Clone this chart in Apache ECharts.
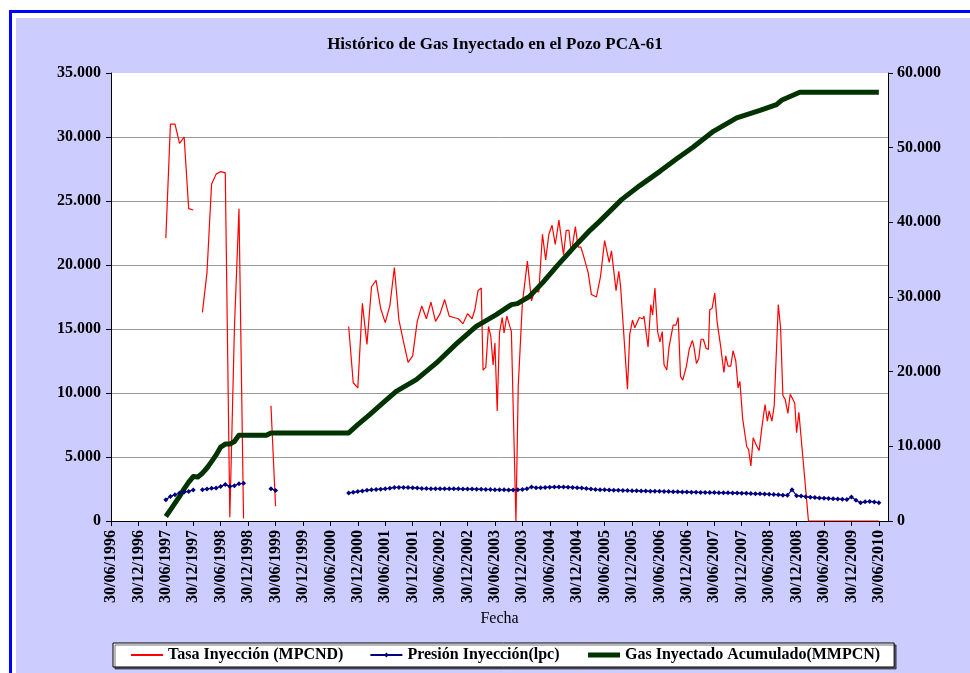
<!DOCTYPE html>
<html>
<head>
<meta charset="utf-8">
<title>Histórico de Gas Inyectado en el Pozo PCA-61</title>
<script src="https://cdn.jsdelivr.net/npm/echarts@6/dist/echarts.min.js"></script>
<style>
  html, body { margin: 0; padding: 0; background: #fff; overflow: hidden; }
  #marco { position: absolute; left: 9px; top: 10px; width: 1000px; height: 700px; border: 3px solid #0000ff; }
  #fondo { position: absolute; left: 16px; top: 18px; width: 954px; height: 655px; background: #ccccff; }
  #chart { position: absolute; left: 0; top: 0; width: 970px; height: 673px; }
</style>
</head>
<body>
<div id="marco"></div>
<div id="fondo"></div>
<div id="chart"></div>
<script>
// eje x: meses contados desde el 30/06/1996
const etiquetasFecha = [
  '30/06/1996', '30/12/1996', '30/06/1997', '30/12/1997', '30/06/1998', '30/12/1998',
  '30/06/1999', '30/12/1999', '30/06/2000', '30/12/2000', '30/06/2001', '30/12/2001',
  '30/06/2002', '30/12/2002', '30/06/2003', '30/12/2003', '30/06/2004', '30/12/2004',
  '30/06/2005', '30/12/2005', '30/06/2006', '30/12/2006', '30/06/2007', '30/12/2007',
  '30/06/2008', '30/12/2008', '30/06/2009', '30/12/2009', '30/06/2010'
]

// Tasa Inyección (MPCND)  [mes, valor]
const tasa = [
  [12, 22100], [13, 31000], [14, 31000], [15, 29500], [16, 30000], [17, 24400], [18, 24300], [19, null],
  [20, 16300], [21, 19400], [22, 26300], [23, 27100], [24, 27300], [25, 27200], [26, 300], [27, 15000],
  [28, 24400], [29, 200], [30, null],
  [35, 9000], [36, 1150], [37, null],
  [52, 15200], [53, 10800], [54, 10400], [55, 17000], [56, 13800], [57, 18300], [58, 18800], [59, 16600],
  [60, 15500], [61, 16800], [62, 19800], [63, 15700], [64, 14000], [65, 12400], [66, 12900], [67, 15600],
  [68, 16800], [69, 15800], [70, 17100], [71, 15600], [72, 16200], [73, 17300], [74, 16000], [75, 15900],
  [76, 15800], [77, 15400], [78, 16200], [79, 15800], [79.6, 16500], [80.3, 18000], [81.0, 18200],
  [81.4, 11800], [82.0, 12000], [82.6, 15200], [83.1, 14400], [83.6, 12200], [84.0, 13900], [84.5, 8600],
  [85.0, 14700], [85.6, 15900], [86.0, 14700], [86.6, 16000], [87.6, 14800], [88.6, 0], [89.1, 10500],
  [90.0, 17000], [91.1, 20300], [92.0, 17200], [92.7, 18000], [93.6, 17900], [94.4, 22400], [95.1, 20400],
  [95.8, 22400], [96.5, 23100], [97.2, 21600], [98.0, 23500], [99.0, 20800], [99.6, 22700], [100.2, 22700],
  [100.7, 20900], [101.6, 23000], [102.2, 21400], [102.8, 21400], [103.4, 20700], [104.4, 19400],
  [105.1, 17700], [106.2, 17500], [107.1, 19100], [108.0, 21900], [109.0, 20200], [109.5, 21100],
  [110.5, 18000], [111.1, 19500], [111.5, 18300], [113.0, 10300], [113.5, 14600], [114.1, 15700],
  [114.6, 15100], [115.6, 15900], [116.3, 15800], [116.6, 16000], [117.5, 13600], [118.1, 16900],
  [118.5, 16100], [119.0, 18200], [119.6, 14800], [120.1, 14000], [120.6, 14800], [121.0, 12200],
  [121.6, 11800], [122.1, 13600], [123.0, 15300], [123.6, 15300], [124.1, 15900], [124.6, 11300],
  [125.1, 11000], [125.9, 12100], [126.5, 13400], [127.2, 14100], [127.5, 13700], [128.1, 12300],
  [128.6, 12700], [129.1, 14200], [129.6, 14200], [130.2, 13500], [130.7, 13400], [131.0, 16500],
  [131.5, 16600], [132.1, 17800], [132.6, 15600], [133.4, 13600], [134.1, 11600], [134.5, 12900],
  [135.0, 12100], [135.6, 12100], [136.1, 13300], [136.7, 12500], [137.2, 10400], [137.6, 10900],
  [138.2, 8000], [138.6, 8000], [139.1, 5800], [139.5, 5600], [140.0, 4300], [140.5, 6500], [141.1, 6000],
  [141.8, 5500], [142.4, 7300], [143.1, 9100], [143.6, 7800], [144.0, 8600], [144.6, 7800], [145.1, 9000],
  [145.5, 8900], [146.0, 16900], [146.5, 15100], [147.0, 9800], [147.5, 9500], [148.1, 8400], [148.6, 9900],
  [149.2, 9500], [149.6, 9200], [150.0, 6900], [150.5, 8500], [152.6, 0], [168, 0]
]

// Presión Inyección (lpc)
const presionTramo1 = [
  [12, 1660], [13, 1920], [14, 2050], [15, 2190], [16, 2270], [17, 2310], [18, 2420], [19, null],
  [20, 2450], [21, 2500], [22, 2550], [23, 2580], [24, 2700], [25, 2860], [26, 2700], [27, 2760],
  [28, 2910], [29, 2940], [30, null],
  [35, 2520], [36, 2390], [37, null]
]
const presionDesde = 52
const presionMensual = [
  2190, 2240, 2300, 2350, 2400, 2440, 2470, 2490, 2510, 2560, 2620, 2620, 2620, 2610, 2600, 2570,
  2540, 2530, 2520, 2520, 2520, 2510, 2510, 2510, 2510, 2500, 2500, 2500, 2490, 2480, 2470, 2460,
  2450, 2440, 2440, 2430, 2430, 2440, 2460, 2520, 2660, 2600, 2600, 2620, 2640, 2650, 2650, 2650,
  2640, 2620, 2600, 2570, 2530, 2500, 2460, 2450, 2440, 2420, 2410, 2400, 2390, 2380, 2370, 2360,
  2350, 2340, 2330, 2320, 2320, 2310, 2300, 2290, 2280, 2270, 2260, 2250, 2240, 2230, 2230, 2220,
  2220, 2210, 2200, 2200, 2190, 2180, 2170, 2160, 2140, 2130, 2120, 2110, 2090, 2070, 2050, 2020,
  2010, 2450, 1980, 1950, 1900, 1860, 1830, 1800, 1780, 1760, 1740, 1720, 1700, 1670, 1880, 1620,
  1430, 1500, 1530, 1490, 1420
]

// Gas Inyectado Acumulado (MMPCN), eje derecho
const acumulado = [
  [12, 600], [13, 1500], [14, 2400], [15, 3300], [16, 4300], [17, 5200], [18, 5950], [19, 5900],
  [20, 6400], [21, 7100], [22, 7950], [23, 8850], [24, 9900], [25, 10300], [26, 10300], [27, 10650],
  [28, 11500], [29, 11500], [34, 11500], [35, 11800], [52, 11800], [54, 12900], [56.6, 14240],
  [59.5, 15810], [62.4, 17360], [66.8, 18930], [71.2, 21170], [75.6, 23750], [79.9, 26070],
  [84.3, 27640], [87.6, 28980], [88.9, 29110], [91.6, 30090], [94.5, 31960], [97.5, 34110],
  [101.8, 37010], [104.8, 38930], [106.9, 40130], [111.7, 43040], [115.7, 44920], [120.1, 46830],
  [123.7, 48490], [127.4, 50100], [131.8, 52190], [136.9, 53990], [142.0, 55000], [145.6, 55770],
  [146.7, 56340], [150.7, 57420], [168, 57420]
]

const fuente = "'Liberation Serif', 'Times New Roman', serif"
const ticksMes = etiquetasFecha.map((e, i) => i * 6)
const presion = presionTramo1.concat(presionMensual.map((v, i) => [presionDesde + i, v]))

function miles (v) {
  return String(v).replace(/\B(?=(\d{3})+(?!\d))/g, '.')
}

const negro = { color: '#000', width: 1 }
const etiquetaEje = { fontFamily: fuente, fontSize: 16, fontWeight: 'bold', color: '#000' }

const option = {
  animation: false,
  backgroundColor: 'transparent',
  textStyle: { fontFamily: fuente },
  title: {
    text: 'Histórico de Gas Inyectado en el Pozo PCA-61',
    left: 490,
    top: 31,
    textAlign: 'center',
    textStyle: { fontFamily: fuente, fontSize: 17, fontWeight: 'bold', color: '#000' }
  },
  legend: {
    left: 113,
    top: 643,
    padding: [4, 14, 4, 17],
    itemGap: 26,
    itemWidth: 32,
    itemHeight: 6,
    backgroundColor: '#fff',
    borderColor: '#000',
    borderWidth: 1,
    shadowColor: 'rgba(0,0,0,0.55)',
    shadowOffsetX: 2,
    shadowOffsetY: 2,
    textStyle: { fontFamily: fuente, fontSize: 16, fontWeight: 'bold', color: '#000', lineHeight: 16 },
    data: [
      { name: 'Tasa Inyección (MPCND)', itemStyle: { opacity: 0 } },
      { name: 'Presión Inyección(lpc)' },
      { name: 'Gas Inyectado Acumulado(MMPCN)', itemStyle: { opacity: 0 }, lineStyle: { width: 5 } }
    ]
  },
  grid: { left: 111, top: 73, right: 82, bottom: 152, show: true, backgroundColor: '#fff', borderWidth: 0 },
  xAxis: {
    type: 'value',
    min: 0,
    max: 170,
    name: 'Fecha',
    nameLocation: 'middle',
    nameGap: 90,
    nameTextStyle: { fontFamily: fuente, fontSize: 16, color: '#000' },
    axisLine: { show: true, lineStyle: negro },
    axisTick: { show: true, customValues: ticksMes, length: 5, lineStyle: negro },
    axisLabel: {
      customValues: ticksMes,
      rotate: 90,
      margin: 9,
      formatter: v => etiquetasFecha[Math.round(v / 6)],
      ...etiquetaEje
    },
    splitLine: { show: false }
  },
  yAxis: [
    {
      type: 'value',
      min: 0,
      max: 35000,
      interval: 5000,
      axisLine: { show: true, lineStyle: negro },
      axisTick: { show: true, length: 5, lineStyle: negro },
      axisLabel: { margin: 10, formatter: miles, ...etiquetaEje },
      splitLine: { show: true, showMinLine: false, showMaxLine: false, lineStyle: { color: '#999', width: 1 } }
    },
    {
      type: 'value',
      position: 'right',
      min: 0,
      max: 60000,
      interval: 10000,
      axisLine: { show: true, lineStyle: negro },
      axisTick: { show: true, length: 5, lineStyle: negro },
      axisLabel: { margin: 9, formatter: miles, ...etiquetaEje },
      splitLine: { show: false }
    }
  ],
  series: [
    {
      name: 'Tasa Inyección (MPCND)',
      type: 'line',
      yAxisIndex: 0,
      symbol: 'none',
      connectNulls: false,
      lineStyle: { color: '#ff0000', width: 1.2 },
      itemStyle: { color: '#ff0000' },
      data: tasa
    },
    {
      name: 'Presión Inyección(lpc)',
      type: 'line',
      yAxisIndex: 0,
      symbol: 'diamond',
      symbolSize: 5,
      showAllSymbol: true,
      connectNulls: false,
      lineStyle: { color: '#000080', width: 1.2 },
      itemStyle: { color: '#000080' },
      data: presion
    },
    {
      name: 'Gas Inyectado Acumulado(MMPCN)',
      type: 'line',
      yAxisIndex: 1,
      symbol: 'none',
      lineStyle: { color: '#003300', width: 5, join: 'round' },
      itemStyle: { color: '#003300' },
      data: acumulado
    }
  ]
}

const myChart = echarts.init(document.getElementById('chart'))
myChart.setOption(option, true)
window.addEventListener('resize', function () {
  myChart.resize()
})
</script>
</body>
</html>
